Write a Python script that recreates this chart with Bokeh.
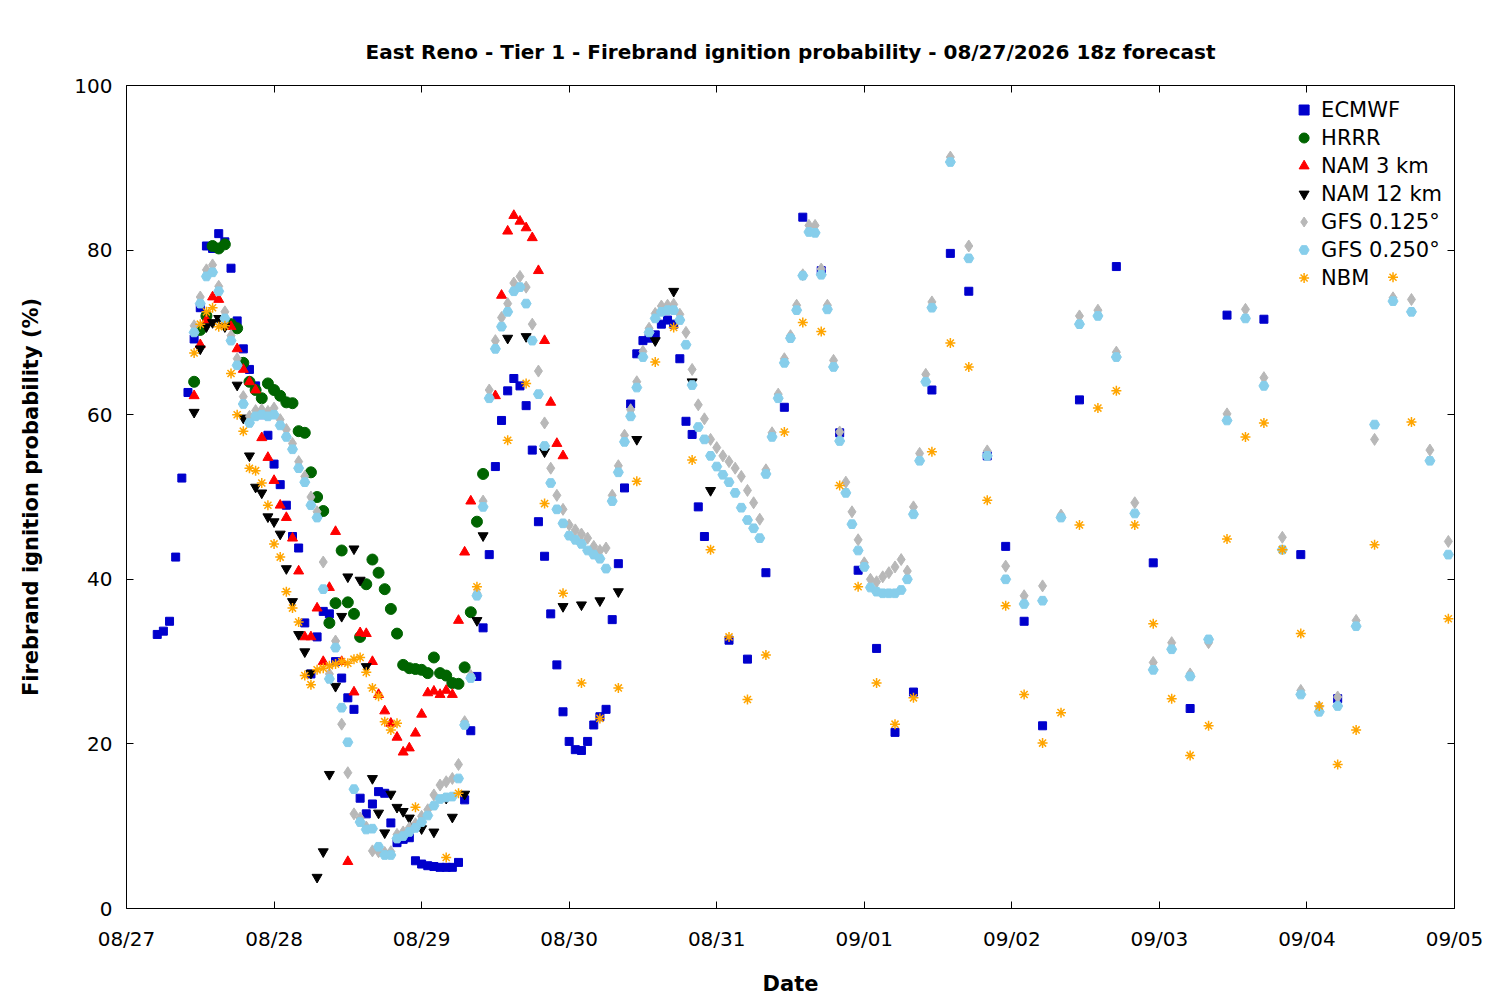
from bokeh.plotting import figure
from bokeh.models import FixedTicker, LinearAxis, Legend, LegendItem, Range1d
from bokeh.embed import file_html
from bokeh.resources import INLINE

date_labels = ["08/27","08/28","08/29","08/30","08/31","09/01","09/02","09/03","09/04","09/05"]

ecmwf_vals = [33.3,33.7,34.9,42.7,52.3,62.7,69.2,73,80.5,80.2,82,81,77.8,71.4,68,65.5,63.5,60,57.5,54,
              51.5,49,45.2,43.8,34.7,28.5,33,36.1,35.8,30,28,25.6,24.2,13.4,11.5,12.7,14.2,14,10.4,8,
              8.4,8.6,5.8,5.4,5.2,5.1,5,5,5,5.6,
              13.2,21.6,28.2,34.1,43,53.7,59.3,62.9,64.4,63.5,61.1,55.7,47,42.8,35.8,29.6,23.9,20.3,19.3,19.2,
              20.3,22.3,23.3,24.2,35.1,41.9,51.1,61.3,67.4,69,69.3,69.7,71,71.5,71,66.8,59.2,57.6,48.8,45.2,
              32.6,30.3,40.8,60.9,84,77.5,57.8,41.1,31.6,21.4,26.3,63,79.6,75,55,44,34.9,22.2,61.8,78,42,24.3,72.1,71.6,43,25.5]
ecmwf_hours = list(range(5, 95)) + [98,101,104,107,110,113,116,119,122,125,128,131,134,137,140,143,146,149,155,161,167,173,179,185,191,197]

hrrr_hours = list(range(11, 59))
hrrr_vals = [64,70.3,72,80.5,80.2,80.7,71,70.5,66.3,64,63,62,63.8,63,62.3,61.5,61.4,58,57.8,53,50,48.3,34.7,37.1,43.5,
             37.2,35.8,33,39.4,42.4,40.8,38.8,36.4,33.4,29.6,29.2,29.1,29,28.6,30.5,28.6,28.3,27.4,27.3,29.3,36,47,52.8]

nam3_hours = list(range(11, 57)) + [60,61,62,63,64,65,66,67,68,69,70,71]
nam3_vals = [62.3,68.5,71.5,74.3,74,71,70.7,68,65.5,64,63,57.2,54.8,52,49,47.5,45,41,33,33,36.5,30,39,45.8,30,
             5.7,26.3,33.5,33.4,30,26,24,22.5,20.8,19,19.5,21.3,23.6,26.2,26.4,26,26.5,26,35,43.3,49.5,
             62.3,74.5,82.3,84.2,83.5,82.7,81.5,77.5,69,61.5,56.5,55]

nam12_hours = [11,12,13,14,15,16,18,19,20,21,22,23,24,25,26,27,28,29,30,31,32,33,34,35,36,37,38,39,40,41,42,43,44,45,46,47,48,50,52,53,55,57,58,
               62,65,68,71,74,77,80,83,86,89,92,95]
nam12_vals = [60.3,68,70.7,71.2,71.7,70.7,63.6,59.6,55,51.2,50.5,47.6,47,45.5,41.3,37.3,33.3,31.2,28.6,3.8,6.9,16.3,27,35.5,40.3,43.7,39.9,29.4,15.8,11.6,
              9.2,13.9,12.3,11.8,11,10,9.7,9.3,13.4,11.1,13.9,35,45.3,
              69.3,69.5,55.5,36.7,36.9,37.4,38.5,57,69,75,64,50.8]

gfs25_hours = list(range(11, 132)) + [134,137,140,143,146,149,152,155,158,161,164,167,170,173,176,179,182,185,188,191,194,197,200,203,206,209,212,215]
gfs25_vals = [70,73.5,76.8,77.3,75,71.7,69,66,61.3,59,59.8,60,59.8,60,58.7,57.3,55.8,53.5,51.8,49,47.5,38.8,27.9,31.7,24.4,
              20.2,14.5,10.5,9.6,9.7,7.5,6.5,6.5,8.5,8.8,9.3,9.8,10.5,11.3,12.5,13.3,13.5,13.6,15.8,22.3,28,38,48.8,62,68,
              70.7,72.5,75,75.5,73.5,69,62.5,56.2,51.7,48.5,46.8,45.3,44.8,44.3,43.5,43,42.5,41.3,49.5,53,56.7,59.8,63.3,67,70,
              71.7,72.5,72.7,72.7,71.5,68.5,63.6,58.5,57,55,53.7,52.7,51.8,50.5,48.7,47.2,46.2,45,52.8,57.3,62,66.3,69.3,72.7,
              76.9,82.2,82.1,77,72.8,65.8,56.8,50.5,46.7,43.5,41.5,39,38.5,38.3,38.3,38.3,38.7,40,47.9,54.4,64,73,
              90.7,79,55,40,37,37.4,47.5,71,72,67,48,29,31.5,28.2,32.7,59.3,71.7,63.5,43.6,26,23.9,24.6,34.3,58.8,73.8,72.5,54.4,43]

gfs125_hours = gfs25_hours
gfs125_vals = [70.8,74.3,77.6,78.2,75.6,72.5,69.6,66.8,62.2,59.8,60.5,60.6,60.4,60.8,59.4,58.2,56.5,54.3,52.5,50,48.2,42.1,28.5,32.5,22.4,
               16.5,11.5,11,9.9,7,6.9,6.8,6.9,9,9.3,9.8,10.3,11.2,12,13.8,15,15.4,15.8,17.5,22.7,28.3,38.3,49.5,63,69,
               71.8,73.5,76,76.8,75.5,71,65.3,59,53.5,50.2,48.5,46.6,46,45.5,45,44,43.5,43.8,50.2,53.8,57.5,60.6,64,67.7,70.5,
               72.3,73.2,73.3,73.4,72.2,70,65.5,61.2,59.5,57,56,55,54.3,53.5,52.5,50.8,49.3,47.3,53.3,57.8,62.5,66.8,69.6,73.3,
               77,83,83,77.7,73.3,66.6,57.9,51.8,48.2,44.8,42,40,39.7,40.3,40.8,41.5,42.4,41,48.8,55.3,64.9,73.7,
               91.3,80.5,55.6,41.6,38,39.2,47.8,72,72.7,67.6,49.3,29.9,32.3,28.5,32.3,60.1,72.8,64.5,45.1,26.5,24.5,25.7,35,57,74.2,74,55.7,44.6]

nbm_hours = list(range(11, 45)) + [47,52,54,57,62,65,68,71,74,77,80,83,86,89,92,95,98,101,104,107,110,113,116,119,122,125,128,131,134,137,140,
             143,146,149,152,155,158,161,164,167,170,173,176,179,182,185,188,191,194,197,200,203,206,209,215]
nbm_vals = [67.5,71,72.5,73,70.7,70.8,65,60,58,53.5,53.2,51.7,49,44.3,42.7,38.5,36.5,34.8,28.3,27.2,29,29.2,29.5,29.7,30,29.8,30.3,30.5,
            28.7,26.8,25.8,22.7,21.7,22.5,12.3,6.2,14,39.1,
            56.9,63.8,49.2,38.3,27.4,23.1,26.8,51.9,66.4,70.6,54.5,43.6,33,25.4,30.8,57.9,71.2,70.1,51.4,39.1,27.4,22.4,25.6,55.5,68.7,65.8,
            49.6,36.8,26,20.1,23.8,46.6,60.8,62.9,46.6,34.6,25.5,18.6,22.2,44.9,57.3,59,43.6,33.4,24.6,17.5,21.7,44.2,76.7,59.1,35.2]

series = [
    ("ECMWF", ecmwf_hours, ecmwf_vals, "square", "#0000cc", 8),
    ("HRRR", hrrr_hours, hrrr_vals, "circle", "#006400", 11),
    ("NAM 3 km", nam3_hours, nam3_vals, "triangle", "#ff0000", 10),
    ("NAM 12 km", nam12_hours, nam12_vals, "inverted_triangle", "#000000", 10),
    ("GFS 0.125°", gfs125_hours, gfs125_vals, "diamond", "#b8b8b8", 12),
    ("GFS 0.250°", gfs25_hours, gfs25_vals, "hex", "#87ceeb", 10),
    ("NBM", nbm_hours, nbm_vals, "asterisk", "#ffa500", 10),
]

p = figure(width=1490, height=998, output_backend="svg", toolbar_location=None,
           x_range=Range1d(0, 9), y_range=Range1d(0, 100),
           min_border_left=126, min_border_right=36, min_border_top=85, min_border_bottom=89)
p.title.text = "East Reno - Tier 1 - Firebrand ignition probability - 08/27/2026 18z forecast"
p.title.align = "center"
p.title.text_font = "DejaVu Sans"
p.title.text_font_size = "20px"
p.title.text_font_style = "bold"
p.title.text_color = "black"
p.title.standoff = 44
p.grid.visible = False
p.outline_line_color = "black"
p.outline_line_width = 1
p.background_fill_color = "white"

items = []
for name, hrs, vals, marker, color, size in series:
    xs = [h / 24 for h in hrs]
    n = min(len(xs), len(vals))
    kw = dict(line_color=color, line_width=1.5) if marker == "asterisk" else dict(fill_color=color, line_color=color)
    r = p.scatter(xs[:n], vals[:n], marker=marker, size=size, **kw)
    items.append(LegendItem(label=name, renderers=[r]))

p.xaxis.ticker = FixedTicker(ticks=list(range(10)))
p.xaxis.major_label_overrides = {i: d for i, d in enumerate(date_labels)}
p.yaxis.ticker = FixedTicker(ticks=[0, 20, 40, 60, 80, 100])
p.xaxis.axis_label = "Date"
p.yaxis.axis_label = "Firebrand ignition probability (%)"
for ax in (p.xaxis[0], p.yaxis[0]):
    ax.axis_label_text_font = "DejaVu Sans"
    ax.axis_label_text_font_style = "bold"
    ax.axis_label_text_font_size = "21px"
    ax.axis_label_text_color = "black"
    ax.major_label_text_font = "DejaVu Sans"
    ax.major_label_text_font_size = "20px"
    ax.major_label_text_color = "black"
    ax.major_tick_in = 7
    ax.major_tick_out = 0
    ax.minor_tick_in = 0
    ax.minor_tick_out = 0
    ax.axis_line_color = None
    ax.major_tick_line_color = "black"
p.xaxis.major_label_standoff = 18
p.xaxis.axis_label_standoff = 18
p.yaxis.major_label_standoff = 14
p.yaxis.axis_label_standoff = 28

for loc, ticks in (("right", [0, 20, 40, 60, 80, 100]), ("above", list(range(10)))):
    ax = LinearAxis(ticker=FixedTicker(ticks=ticks), major_label_overrides={t: "" for t in ticks},
                    major_tick_in=7, major_tick_out=0, minor_tick_in=0, minor_tick_out=0,
                    axis_line_color=None, major_tick_line_color="black", major_label_standoff=0)
    p.add_layout(ax, loc)

legend = Legend(items=items, location="top_right", border_line_color=None,
                background_fill_alpha=0, label_text_font="DejaVu Sans", label_text_color="black",
                label_text_font_size="21px", spacing=3, label_height=25, glyph_height=25, glyph_width=25, margin=12)
p.add_layout(legend, "center")

open("out.html", "w").write(file_html(p, INLINE))
